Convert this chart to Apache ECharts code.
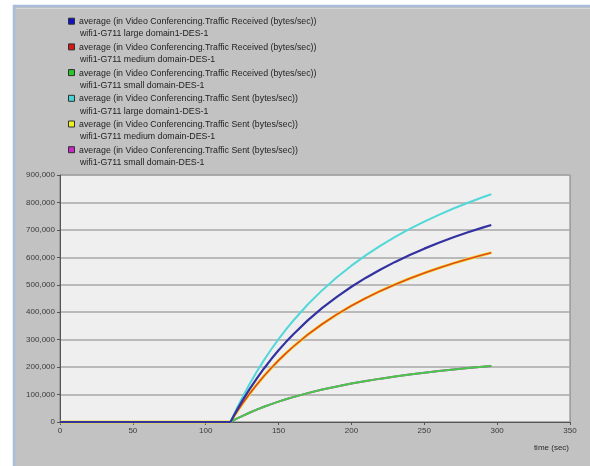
<!DOCTYPE html>
<html>
<head>
<meta charset="utf-8">
<script src="https://cdn.jsdelivr.net/npm/echarts@6/dist/echarts.min.js"></script>
<style>
  html, body { margin: 0; padding: 0; background: #ffffff; }
  #chart { width: 590px; height: 466px; }
</style>
</head>
<body>
<div id="chart"></div>
<script>
// Simulation time (sec) at which each sample is taken
const times = [0, 117, 120, 122, 125, 130, 135, 140, 145, 150, 155, 160, 170, 180, 190, 200, 210, 220, 230, 240, 250, 260, 270, 280, 290, 296];

// Average traffic (bytes/sec)
const receivedLarge  = [0, 0, 29700, 48700, 76000, 118700, 158300, 195100, 229300, 261200, 291100, 319100, 370200, 415600, 456200, 492800, 525900, 555900, 583400, 608500, 631700, 653100, 672900, 691200, 708400, 718000];
const receivedMedium = [0, 0, 25500, 41800, 65300, 102000, 136000, 167600, 197000, 224500, 250200, 274200, 318100, 357100, 392000, 423400, 451900, 477700, 501300, 522900, 542800, 561200, 578200, 593900, 608700, 617000];
const receivedSmall  = [0, 0, 8400, 13800, 21600, 33700, 45000, 55400, 65200, 74200, 82700, 90700, 105200, 118100, 129600, 140000, 149400, 158000, 165800, 172900, 179500, 185600, 191200, 196400, 201300, 204000];
const sentLarge      = [0, 0, 34300, 56300, 87800, 137300, 183000, 225500, 265100, 302000, 336500, 368900, 428000, 480400, 527400, 569600, 607900, 642600, 674400, 703500, 730200, 754900, 777800, 799000, 818900, 830000];
const sentMedium     = [0, 0, 25500, 41800, 65300, 102000, 136000, 167600, 197000, 224500, 250200, 274200, 318100, 357100, 392000, 423400, 451900, 477700, 501300, 522900, 542800, 561200, 578200, 593900, 608700, 617000];
const sentSmall      = [0, 0, 8400, 13800, 21600, 33700, 45000, 55400, 65200, 74200, 82700, 90700, 105200, 118100, 129600, 140000, 149400, 158000, 165800, 172900, 179500, 185600, 191200, 196400, 201300, 204000];

const statReceived = 'average (in Video Conferencing.Traffic Received (bytes/sec))';
const statSent = 'average (in Video Conferencing.Traffic Sent (bytes/sec))';
const scenarios = [
  'wifi1-G711 large domain1-DES-1',
  'wifi1-G711 medium domain-DES-1',
  'wifi1-G711 small domain-DES-1'
];

// Legend entries in display order
const legendEntries = [
  { stat: statReceived, scenario: scenarios[0], swatch: '#1010c8' },
  { stat: statReceived, scenario: scenarios[1], swatch: '#d41818' },
  { stat: statReceived, scenario: scenarios[2], swatch: '#28c828' },
  { stat: statSent,     scenario: scenarios[0], swatch: '#48d4d4' },
  { stat: statSent,     scenario: scenarios[1], swatch: '#f0f020' },
  { stat: statSent,     scenario: scenarios[2], swatch: '#c828c8' }
];

// Series in drawing order (later ones paint over earlier ones)
const seriesDefs = [
  { name: 'sent medium',     values: sentMedium,     color: '#f2dc30', width: 3 },
  { name: 'received medium', values: receivedMedium, color: '#e2481e', width: 1.6 },
  { name: 'sent small',      values: sentSmall,      color: '#c828c8', width: 2 },
  { name: 'received small',  values: receivedSmall,  color: '#48c848', width: 2 },
  { name: 'sent large',      values: sentLarge,      color: '#52d8d8', width: 2 },
  { name: 'received large',  values: receivedLarge,  color: '#3232a0', width: 2.2 }
];

const legendFont = '8.8px "Liberation Sans", Arial, sans-serif';
const legendGraphics = [];
legendEntries.forEach((e, i) => {
  const y0 = 21.7 + i * 25.7;
  legendGraphics.push({
    type: 'rect', z: 10,
    shape: { x: 68.5, y: y0 - 3.5, width: 6, height: 6 },
    style: { fill: e.swatch, stroke: '#303030', lineWidth: 1 }
  });
  legendGraphics.push({
    type: 'text', z: 10, x: 79, y: y0,
    style: { text: e.stat, font: legendFont, fill: '#222222', textVerticalAlign: 'middle' }
  });
  legendGraphics.push({
    type: 'text', z: 10, x: 80, y: y0 + 12.3,
    style: { text: e.scenario, font: legendFont, fill: '#222222', textVerticalAlign: 'middle' }
  });
});

const chart = echarts.init(document.getElementById('chart'), null, { renderer: 'canvas' });

chart.setOption({
  backgroundColor: '#ffffff',
  animation: false,
  graphic: [
    // grey panel with a light blue frame
    { type: 'rect', z: -10, shape: { x: 14, y: 6, width: 590, height: 470 },
      style: { fill: '#c2c2c2', stroke: '#a9bcd9', lineWidth: 2.5 } },
    { type: 'line', z: -9, shape: { x1: 16, y1: 8.5, x2: 590, y2: 8.5 },
      style: { stroke: '#d6d6d6', lineWidth: 1 } },
    { type: 'text', z: 10, x: 569, y: 448,
      style: { text: 'time (sec)', font: '8px "Liberation Sans", Arial, sans-serif', fill: '#2a2a2a', textAlign: 'right', textVerticalAlign: 'middle' } }
  ].concat(legendGraphics),
  grid: {
    left: 60, right: 20, top: 175, bottom: 44,
    show: true, backgroundColor: '#efefef', borderColor: '#7c7c7c', borderWidth: 1
  },
  xAxis: {
    type: 'value', min: 0, max: 350, interval: 50,
    axisLine: { show: true, onZero: false, lineStyle: { color: '#555555', width: 1 } },
    axisTick: { show: true, length: 3, lineStyle: { color: '#555555' } },
    axisLabel: { fontFamily: 'Liberation Sans', fontSize: 8, color: '#3a3a3a', margin: 5 },
    splitLine: { show: false }
  },
  yAxis: {
    type: 'value', min: 0, max: 900000, interval: 100000,
    axisLine: { show: true, lineStyle: { color: '#555555', width: 1 } },
    axisTick: { show: true, length: 3, lineStyle: { color: '#555555' } },
    axisLabel: {
      fontFamily: 'Liberation Sans', fontSize: 8, color: '#3a3a3a', margin: 5,
      formatter: v => v.toLocaleString('en-US')
    },
    splitLine: { show: true, lineStyle: { color: '#a8a8a8', width: 1.5 } }
  },
  series: seriesDefs.map(s => ({
    type: 'line',
    name: s.name,
    data: times.map((t, i) => [t, s.values[i]]),
    showSymbol: false,
    smooth: false,
    clip: false,
    lineStyle: { color: s.color, width: s.width },
    itemStyle: { color: s.color }
  }))
});
</script>
</body>
</html>
